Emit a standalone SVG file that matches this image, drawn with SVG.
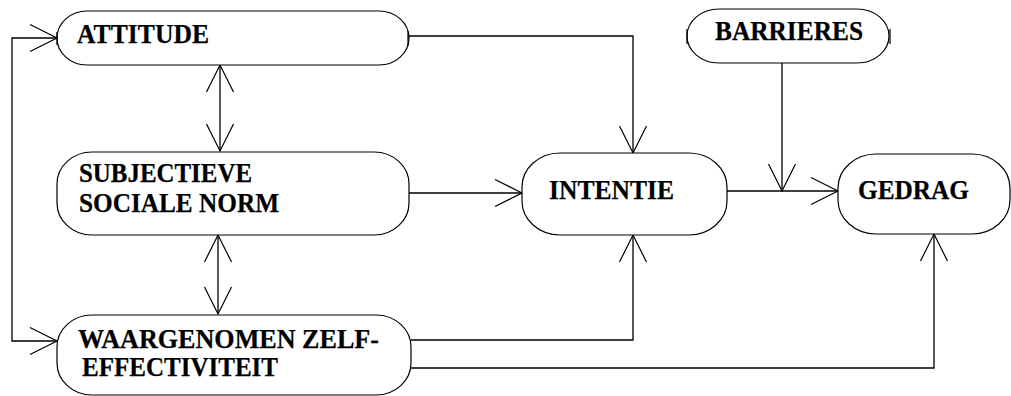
<svg xmlns="http://www.w3.org/2000/svg" width="1011" height="396" viewBox="0 0 1011 396">
<style>
.node{fill:#fff;stroke:#000;stroke-width:1.2}
.tick{stroke:#000;stroke-width:1.2}
.lbl{font-family:"Liberation Serif","Times New Roman",serif;font-weight:bold;font-size:28px;fill:#000;stroke:#000;stroke-width:0.25}
.con{fill:none;stroke:#000;stroke-width:1.3}
</style>
<defs>
<marker id="arr" viewBox="-30 -16 32 32" markerWidth="32" markerHeight="32" refX="0" refY="0" orient="auto-start-reverse" markerUnits="userSpaceOnUse" overflow="visible">
<path d="M-27,-13.5 L0,0 L-27,13.5" fill="none" stroke="#000" stroke-width="1.2"/>
</marker>
</defs>
<rect width="1011" height="396" fill="#fff"/>
<g id="connectors">
<path class="con" d="M57,38 H12 V341 H57" marker-start="url(#arr)" marker-end="url(#arr)"/>
<path class="con" d="M220,65 V151" marker-start="url(#arr)" marker-end="url(#arr)"/>
<path class="con" d="M218,235 V314" marker-start="url(#arr)" marker-end="url(#arr)"/>
<path class="con" d="M407,36 H633 V153" marker-end="url(#arr)"/>
<path class="con" d="M409,193 H522" marker-end="url(#arr)"/>
<path class="con" d="M411,340 H633 V235" marker-end="url(#arr)"/>
<path class="con" d="M727,191 H838" marker-end="url(#arr)"/>
<path class="con" d="M782,63 V191" marker-end="url(#arr)"/>
<path class="con" d="M411,368 H934 V234" marker-end="url(#arr)"/>
</g>
<g id="attitude">
<rect class="node" x="57" y="11" width="352" height="54" rx="30" ry="27"/>
<line class="tick" x1="57" y1="32" x2="57" y2="45"/>
<line class="tick" x1="408" y1="31" x2="408" y2="46"/>
<text class="lbl" x="77" y="43" textLength="132" lengthAdjust="spacingAndGlyphs">ATTITUDE</text>
</g>
<g id="barrieres">
<rect class="node" x="687" y="9" width="202" height="54" rx="32" ry="27"/>
<line class="tick" x1="687" y1="29" x2="687" y2="44"/>
<line class="tick" x1="890" y1="29" x2="890" y2="44"/>
<text class="lbl" x="715" y="40" textLength="148" lengthAdjust="spacingAndGlyphs">BARRIERES</text>
</g>
<g id="subjectieve">
<rect class="node" x="57" y="152" width="352" height="83" rx="35" ry="32"/>
<text class="lbl" x="79" y="182" textLength="173" lengthAdjust="spacingAndGlyphs">SUBJECTIEVE</text>
<text class="lbl" x="79" y="212" textLength="200" lengthAdjust="spacingAndGlyphs">SOCIALE NORM</text>
</g>
<g id="intentie">
<rect class="node" x="522" y="153" width="205" height="82" rx="38" ry="34"/>
<text class="lbl" x="549" y="199" textLength="125" lengthAdjust="spacingAndGlyphs">INTENTIE</text>
</g>
<g id="gedrag">
<rect class="node" x="838" y="154" width="172" height="80" rx="38" ry="34"/>
<text class="lbl" x="858" y="199" textLength="111" lengthAdjust="spacingAndGlyphs">GEDRAG</text>
</g>
<g id="waargenomen">
<rect class="node" x="57" y="315" width="354" height="80" rx="35" ry="32"/>
<text class="lbl" x="78" y="348" textLength="301" lengthAdjust="spacingAndGlyphs">WAARGENOMEN ZELF-</text>
<text class="lbl" x="82" y="376" textLength="196" lengthAdjust="spacingAndGlyphs">EFFECTIVITEIT</text>
</g>
</svg>
